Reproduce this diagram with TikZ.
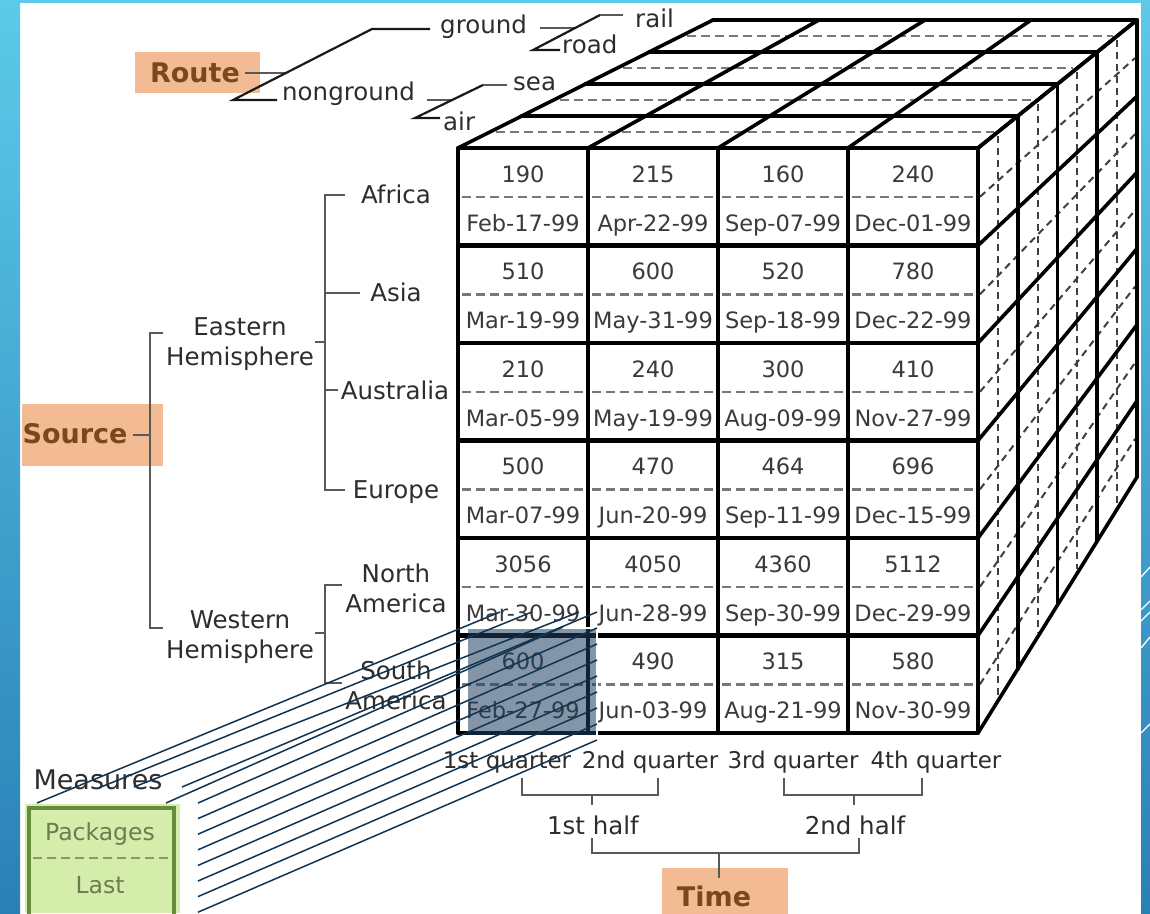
\documentclass[tikz,border=0pt]{standalone}
\usepackage{fontspec}
\setmainfont{DejaVu Sans}
\usetikzlibrary{calc}
\definecolor{skyA}{RGB}{92,202,232}
\definecolor{skyB}{RGB}{42,128,182}
\definecolor{labelc}{RGB}{45,45,45}
\definecolor{cellc}{RGB}{58,58,58}
\definecolor{dashc}{RGB}{120,120,120}
\definecolor{orangebox}{RGB}{242,187,148}
\definecolor{browntext}{RGB}{122,72,30}
\definecolor{greenfill}{RGB}{212,237,170}
\definecolor{greenline}{RGB}{104,140,62}
\definecolor{greentext}{RGB}{105,125,80}
\definecolor{navy}{RGB}{16,52,82}
\definecolor{hlc}{RGB}{31,63,95}
\tikzset{
 celltxt/.style={font=\fontsize{22.5}{27}\selectfont, text=cellc, inner sep=0pt},
 lbl/.style={font=\fontsize{24.5}{30}\selectfont, text=labelc, inner sep=0pt},
 qlbl/.style={font=\fontsize{23}{28}\selectfont, text=labelc, inner sep=0pt},
 dimtxt/.style={font=\bfseries\fontsize{27}{32}\selectfont, text=browntext, inner sep=0pt},
 dimbox/.style={fill=orangebox, draw=none},
 gridln/.style={line width=4.2pt, black, line cap=round, line join=round},
 faceln/.style={line width=3.6pt, black, line cap=round, line join=round},
 cdash/.style={line width=2.8pt, dashc, dash pattern=on 9pt off 5pt},
 tdash/.style={line width=2.6pt, dashc, dash pattern=on 9pt off 5pt},
 sdash/.style={line width=2pt, black!75, dash pattern=on 7pt off 5pt},
 brk/.style={line width=2.2pt, black!65},
 rbrk/.style={line width=2.2pt, black!90},
 beam/.style={line width=1.5pt, navy},
 mtxt/.style={font=\fontsize{23.5}{28}\selectfont, text=greentext, inner sep=0pt},
}
\newcommand\mycell[4]{%
 \pgfmathsetmacro\cx{523+130*#2}%
 \pgfmathsetmacro\ty{148+97.5*#1}%
 \pgfmathsetmacro\xa{458+130*#2+4}%
 \pgfmathsetmacro\xb{458+130*#2+126}%
 \draw[cdash] (\xa,\ty+49) -- (\xb,\ty+49);
 \node[celltxt, anchor=base] (n#1#2) at (\cx,\ty+34) {#3};
 \node[celltxt, anchor=base] (d#1#2) at (\cx,\ty+83) {#4};
}
\begin{document}
\begin{tikzpicture}[x=1pt,y=-1pt]
\useasboundingbox (0,0) rectangle (1150,913);
% slide background
\fill[white] (0,0) rectangle (1150,913);
\shade[top color=skyA,bottom color=skyB] (0,0) rectangle (20,913);
\shade[top color=skyA,bottom color=skyB] (1141,0) rectangle (1150,913);
\fill[skyA] (0,0) rectangle (1150,3);
\foreach \ya/\yb in {577/567, 610/601, 621/612, 648/637, 733/724}
  \draw[white, line width=1.3pt] (1141,\ya) -- (1150,\yb);

% ---------- top face ----------
\foreach \t in {0.5,1.5,2.5,3.5} {
 \pgfmathsetmacro\yy{148-32*\t}
 \pgfmathsetmacro\xl{458+63.75*\t+6}
 \pgfmathsetmacro\xr{978+39.75*\t-4}
 \draw[tdash] (\xl,\yy) -- (\xr,\yy);
}
\foreach \t in {1,2,3,4} {
 \pgfmathsetmacro\yy{148-32*\t}
 \pgfmathsetmacro\xl{458+63.75*\t}
 \pgfmathsetmacro\xr{978+39.75*\t}
 \draw[faceln] (\xl,\yy) -- (\xr,\yy);
}
\foreach \c in {0,...,4}
 \draw[faceln] (458+130*\c,148) -- (713+106*\c,20);

% ---------- right face ----------
\foreach \t in {0.5,1.5,2.5,3.5} {
 \pgfmathsetmacro\xx{978+39.75*\t}
 \pgfmathsetmacro\ya{148-32*\t+4}
 \pgfmathsetmacro\yb{733-64*\t-4}
 \draw[sdash] (\xx,\ya) -- (\xx,\yb);
}
\foreach \r in {0.5,1.5,2.5,3.5,4.5,5.5}
 \draw[sdash] (980,148+97.5*\r) -- (1135,20+76.1667*\r);
\foreach \t in {1,2,3,4} {
 \pgfmathsetmacro\xx{978+39.75*\t}
 \draw[faceln] (\xx,148-32*\t) -- (\xx,733-64*\t);
}
\foreach \r in {0,...,6}
 \draw[faceln] (978,148+97.5*\r) -- (1137,20+76.1667*\r);

% ---------- front face ----------
\mycell{0}{0}{190}{Feb-17-99}
\mycell{0}{1}{215}{Apr-22-99}
\mycell{0}{2}{160}{Sep-07-99}
\mycell{0}{3}{240}{Dec-01-99}
\mycell{1}{0}{510}{Mar-19-99}
\mycell{1}{1}{600}{May-31-99}
\mycell{1}{2}{520}{Sep-18-99}
\mycell{1}{3}{780}{Dec-22-99}
\mycell{2}{0}{210}{Mar-05-99}
\mycell{2}{1}{240}{May-19-99}
\mycell{2}{2}{300}{Aug-09-99}
\mycell{2}{3}{410}{Nov-27-99}
\mycell{3}{0}{500}{Mar-07-99}
\mycell{3}{1}{470}{Jun-20-99}
\mycell{3}{2}{464}{Sep-11-99}
\mycell{3}{3}{696}{Dec-15-99}
\mycell{4}{0}{3056}{Mar-30-99}
\mycell{4}{1}{4050}{Jun-28-99}
\mycell{4}{2}{4360}{Sep-30-99}
\mycell{4}{3}{5112}{Dec-29-99}
\mycell{5}{0}{600}{Feb-27-99}
\mycell{5}{1}{490}{Jun-03-99}
\mycell{5}{2}{315}{Aug-21-99}
\mycell{5}{3}{580}{Nov-30-99}
\foreach \c in {1,2,3} \draw[gridln] (458+130*\c,148) -- (458+130*\c,733);
\foreach \r in {1,...,5} \draw[gridln] (458,148+97.5*\r) -- (978,148+97.5*\r);
\draw[gridln] (458,148) rectangle (978,733);

% ---------- Route hierarchy ----------
\node[dimbox, minimum width=125pt, minimum height=41pt, anchor=north west] (routebox) at (135,52) {};
\node[dimtxt, anchor=base] (route) at (195,82) {Route};
\draw[brk] (245,73) -- (286,73);
\draw[rbrk] (277,100) -- (233,100) -- (372,29) -- (430,29);
\node[lbl, anchor=base west] (ground) at (440,33) {ground};
\node[lbl, anchor=base west] (nonground) at (282,100) {nonground};
\draw[brk] (540,28) -- (575,28);
\draw[rbrk] (560,50) -- (533,50) -- (600,15);
\draw[brk] (600,15) -- (623,15);
\node[lbl, anchor=base west] (rail) at (635,27) {rail};
\node[lbl, anchor=base west] (road) at (562,53) {road};
\draw[brk] (427,100) -- (452,100);
\draw[rbrk] (440,118) -- (415,118) -- (483,85);
\draw[brk] (483,85) -- (507,85);
\node[lbl, anchor=base west] (sea) at (513,90) {sea};
\node[lbl, anchor=base west] (air) at (443,130) {air};

% ---------- Source hierarchy ----------
\node[dimbox, minimum width=141pt, minimum height=62pt, anchor=north west] (sourcebox) at (22,404) {};
\node[dimtxt, anchor=base] (source) at (75,443) {Source};
\draw[brk] (133,435) -- (150,435);
\draw[brk] (163,333) -- (150,333) -- (150,628) -- (163,628);
\node[lbl, anchor=base] (east1) at (240,335) {Eastern};
\node[lbl, anchor=base] (east2) at (240,365) {Hemisphere};
\node[lbl, anchor=base] (west1) at (240,628) {Western};
\node[lbl, anchor=base] (west2) at (240,658) {Hemisphere};
\draw[brk] (315,342) -- (325,342);
\draw[brk] (345,195) -- (325,195) -- (325,490) -- (345,490);
\draw[brk] (325,293) -- (360,293);
\draw[brk] (325,390) -- (338,390);
\draw[brk] (315,633) -- (325,633);
\draw[brk] (342,585) -- (325,585) -- (325,683) -- (342,683);
\node[lbl, anchor=base] (africa) at (396,203) {Africa};
\node[lbl, anchor=base] (asia) at (396,301) {Asia};
\node[lbl, anchor=base] (austr) at (395,399) {Australia};
\node[lbl, anchor=base] (europe) at (396,498) {Europe};
\node[lbl, anchor=base] (na1) at (396,582) {North};
\node[lbl, anchor=base] (na2) at (396,612) {America};
\node[lbl, anchor=base] (sa1) at (396,679) {South};
\node[lbl, anchor=base] (sa2) at (396,709) {America};

% ---------- Time hierarchy ----------
\node[qlbl, anchor=base] (q1) at (507,768) {1st quarter};
\node[qlbl, anchor=base] (q2) at (650,768) {2nd quarter};
\node[qlbl, anchor=base] (q3) at (793,768) {3rd quarter};
\node[qlbl, anchor=base] (q4) at (936,768) {4th quarter};
\draw[brk] (522,778) -- (522,795) -- (658,795) -- (658,778);
\draw[brk] (592,795) -- (592,805);
\draw[brk] (784,778) -- (784,795) -- (922,795) -- (922,778);
\draw[brk] (854,795) -- (854,805);
\node[lbl, anchor=base] (h1) at (593,834) {1st half};
\node[lbl, anchor=base] (h2) at (855,834) {2nd half};
\draw[brk] (592,838) -- (592,853) -- (859,853) -- (859,838);
\node[dimbox, minimum width=126pt, minimum height=46pt, anchor=north west] (timebox) at (662,868) {};
\draw[brk] (719,853) -- (719,878);
\node[dimtxt, anchor=base] (time) at (714,906) {Time};

% ---------- Measures ----------
\node[font=\fontsize{27}{32}\selectfont, text=labelc, inner sep=0pt, anchor=base] (meas) at (98,789) {Measures};
\fill[greenfill] (25,804) rectangle (180,913);
\draw[greenline, line width=4pt] (29,808) rectangle (174,925);
\draw[line width=2.5pt, greentext!80, dash pattern=on 9pt off 5pt] (33,858) -- (170,858);
\node[mtxt, anchor=base] (pack) at (100,840) {Packages};
\node[mtxt, anchor=base] (last) at (100,893) {Last};

% ---------- highlighted cell and beams ----------
\fill[hlc, opacity=0.55] (468,628) rectangle (597,735);
\draw[white, line width=1.2pt] (468,628) -- (597,628) -- (597,735);
\draw[beam] (37,803) -- (500,612);
\draw[beam] (101,787) -- (532,612);
\draw[beam] (134,787) -- (579,612);
\draw[beam] (166,803) -- (563,627);
\draw[beam] (182,787) -- (597,612);
\foreach \k in {0,...,7}
 \draw[beam] (198,803+15.6*\k) -- (597,628+16*\k);
\end{tikzpicture}
\end{document}
